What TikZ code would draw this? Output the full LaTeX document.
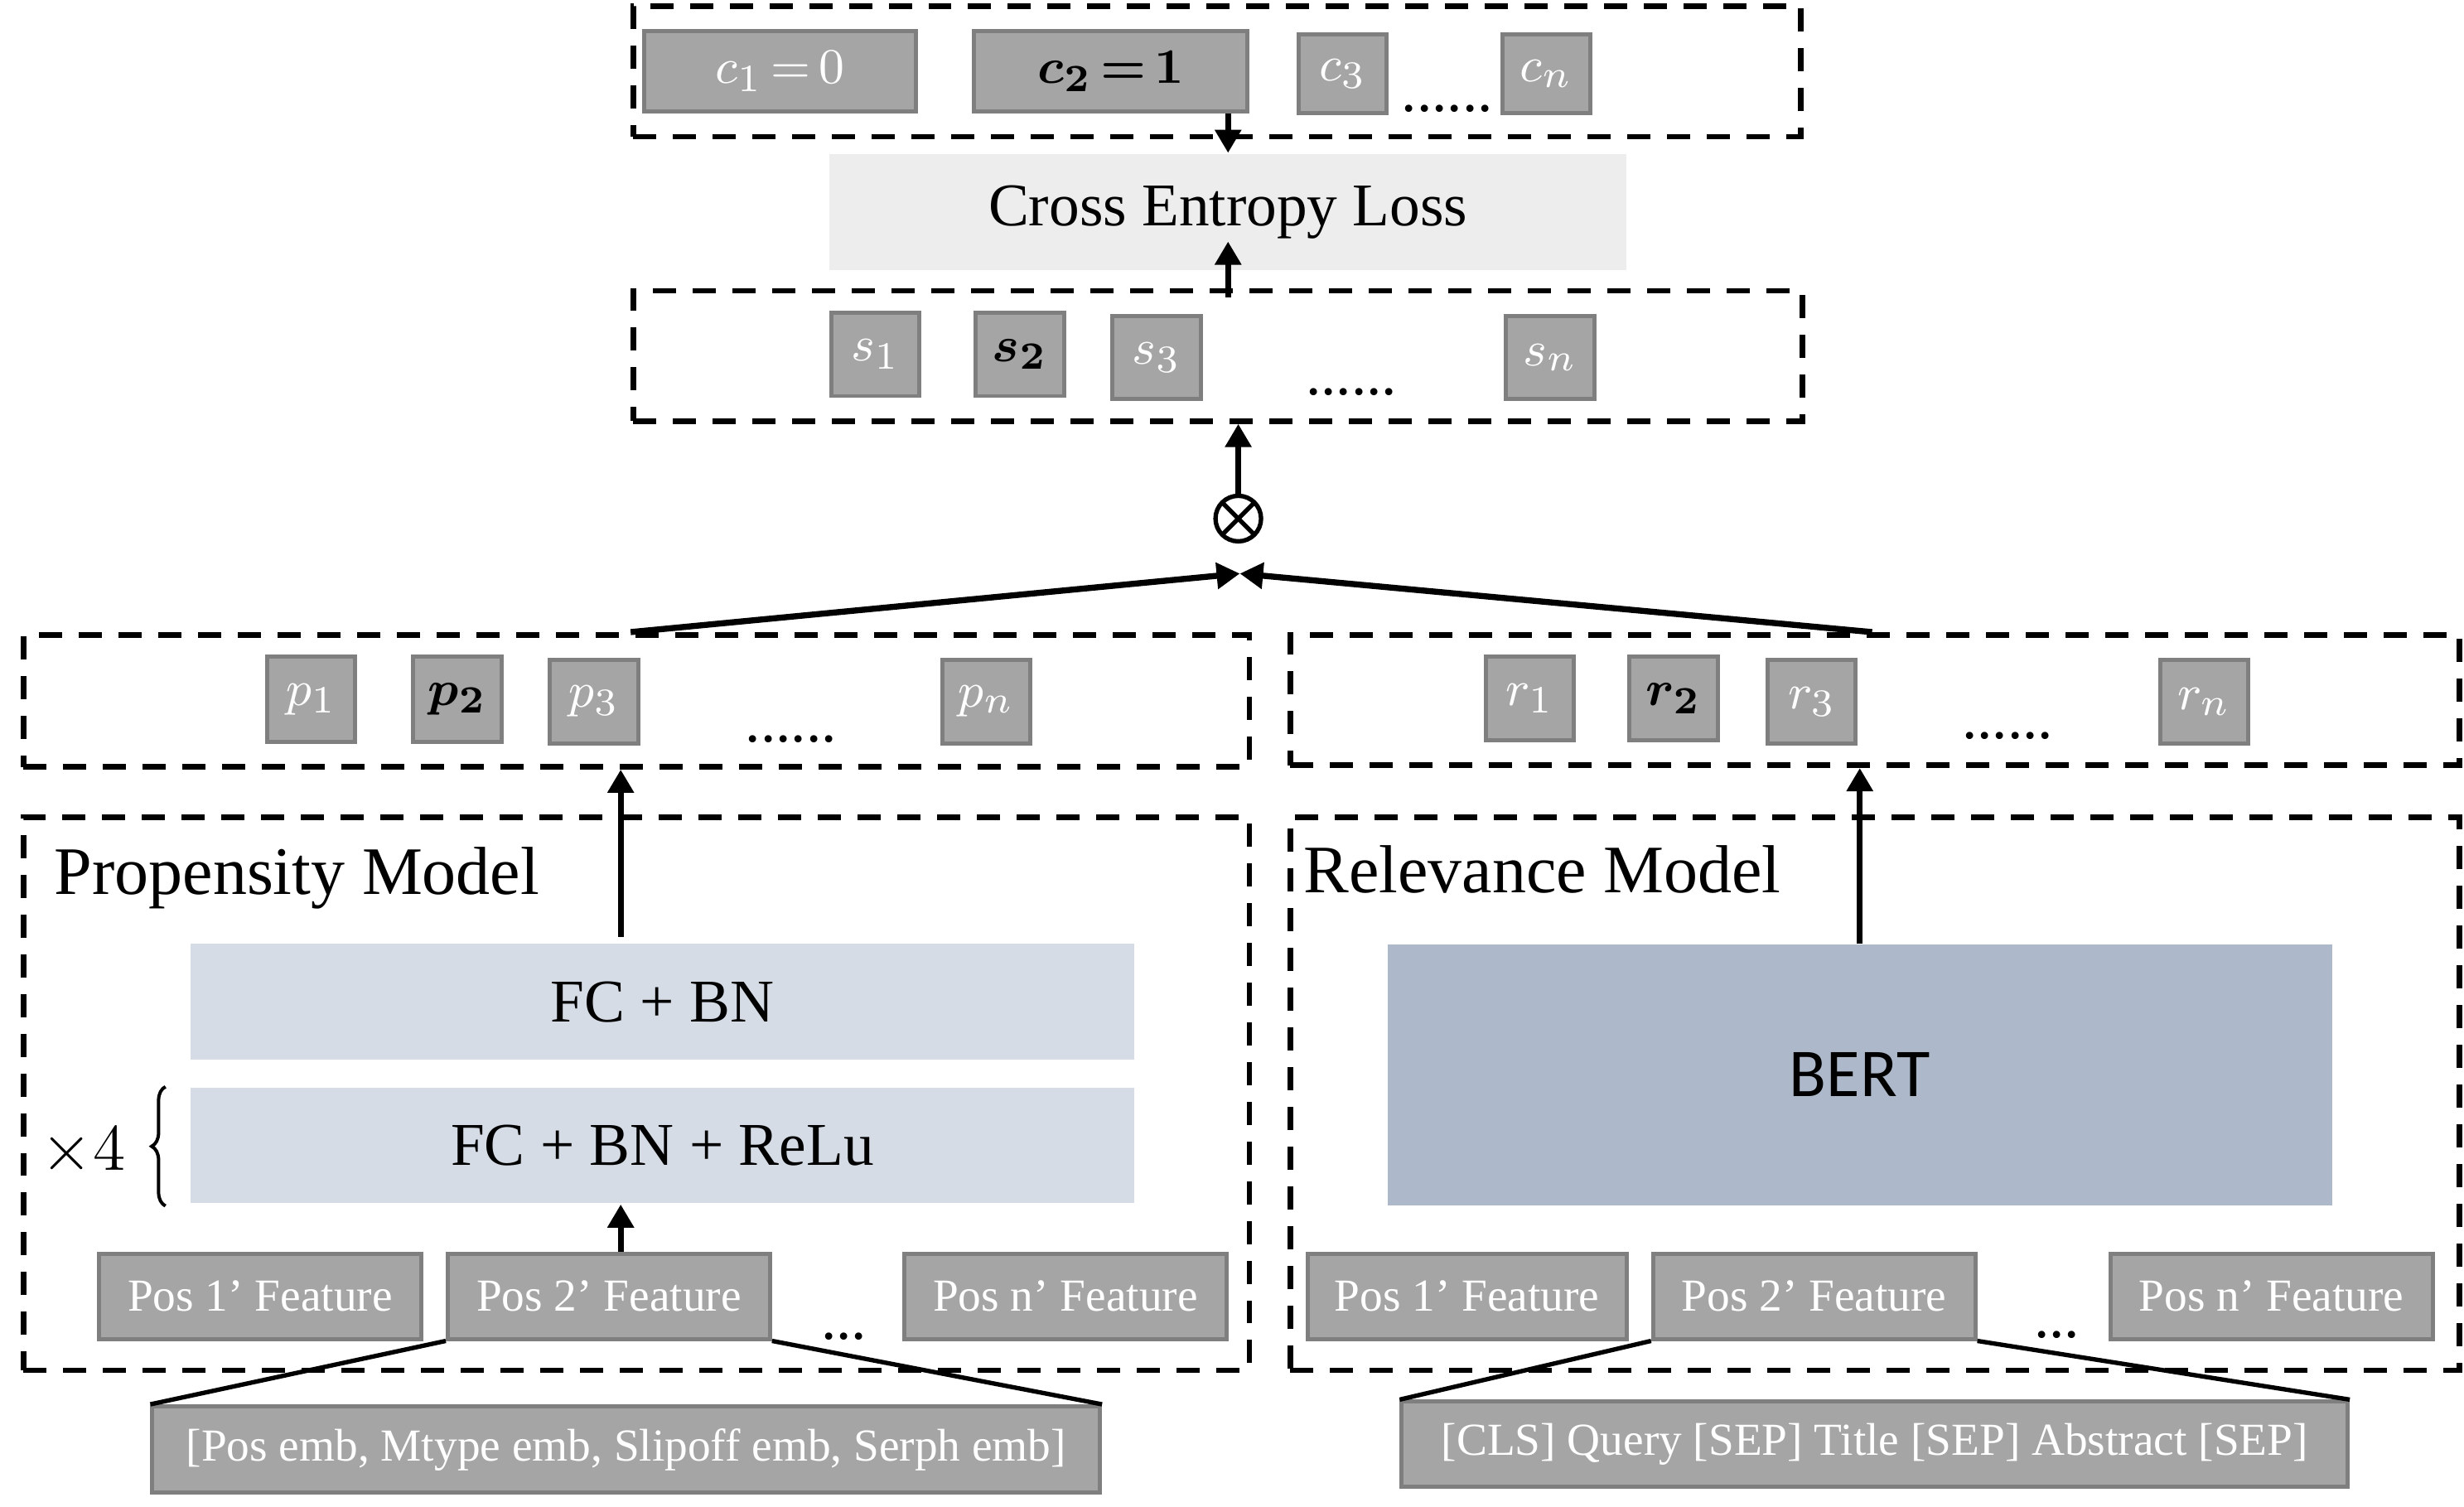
\documentclass[tikz,border=0pt]{standalone}
\usepackage{fontspec}
\setmainfont{Liberation Serif}
\newfontfamily\bertfont{Carlito}
\usepackage{bm}
\usetikzlibrary{arrows.meta,decorations.pathreplacing,calc}
\definecolor{cellgray}{HTML}{A5A5A5}
\definecolor{edgegray}{HTML}{7F7F7F}
\definecolor{lossgray}{HTML}{EDEDED}
\definecolor{layerblue}{HTML}{D6DCE5}
\definecolor{bertblue}{HTML}{ADB9CA}

\begin{document}
\begin{tikzpicture}[x=0.1mm, y=-0.1mm,
	dashbox/.style={draw, dash pattern=on 4.2pt off 3pt, line width=1pt, inner sep=0pt},
	cell/.style={draw=edgegray, fill=cellgray, line width=0.75pt, inner sep=0pt, text=white,
		minimum width=0.56cm, minimum height=0.53cm, font=\fontsize{9.5}{11}\selectfont},
	featbox/.style={cell, minimum width=2.05cm, minimum height=0.54cm, font=\fontsize{8.3}{10}\selectfont},
	layer/.style={fill=layerblue, inner sep=0pt, minimum width=6.01cm, minimum height=0.735cm, font=\fontsize{11}{13}\selectfont},
	dots/.style={anchor=base, inner sep=0pt, font=\fontsize{11}{13}\selectfont},
	title/.style={anchor=base west, inner sep=0pt, font=\fontsize{12.3}{14}\selectfont},
	arr/.style={-{Triangle[length=4.2pt,width=4.6pt]}, line width=1.1pt},
	link/.style={line width=0.8pt}]
	\useasboundingbox (0,0) rectangle (1568,959);

	% dashed frames
	\node (crow) at (774.5, 45.5)	[dashbox, minimum width=7.43cm, minimum height=0.83cm]	{};
	\node (srow) at (775, 226.5)	[dashbox, minimum width=7.44cm, minimum height=0.83cm]	{};
	\node (prow) at (405, 446)	[dashbox, minimum width=7.80cm, minimum height=0.84cm]	{};
	\node (rrow) at (1193, 445.5)	[dashbox, minimum width=7.44cm, minimum height=0.83cm]	{};
	\node (pmodel) at (405, 696)	[dashbox, minimum width=7.80cm, minimum height=3.52cm]	{};
	\node (rmodel) at (1193, 696)	[dashbox, minimum width=7.44cm, minimum height=3.52cm]	{};

	% clicks
	\node (c1) at (496.5, 45.5)	[cell, minimum width=1.73cm, minimum height=0.51cm]	{$c_1\,{=}\,0$};
	\node (c2) at (707, 45.5)	[cell, minimum width=1.74cm, minimum height=0.51cm, text=black]	{$\bm{c_2\,{=}\,1}$};
	\node (c3) at (854.5, 47)	[cell, minimum height=0.50cm]	{$c_3$};
	\node (cn) at (984, 47)	[cell, minimum height=0.50cm]	{$c_n$};
	\node (cdots) at (921, 71)	[dots]	{......};

	\node (closs) at (781.5, 135)	[fill=lossgray, inner sep=0pt, minimum width=5.07cm, minimum height=0.74cm, font=\fontsize{11}{13}\selectfont]	{Cross Entropy Loss};

	% scores
	\node (s1) at (557, 225.5)	[cell]	{$s_1$};
	\node (s2) at (649, 225.5)	[cell, text=black]	{$\bm{s_2}$};
	\node (s3) at (736, 227.5)	[cell]	{$s_3$};
	\node (sn) at (986.5, 227.5)	[cell]	{$s_n$};
	\node (sdots) at (860, 251)	[dots]	{......};

	\node (mul) at (788, 330)	[circle, draw, line width=0.8pt, minimum size=0.29cm, inner sep=0pt,
		path picture={\draw[line width=0.8pt] (path picture bounding box.north west) -- (path picture bounding box.south east)
			(path picture bounding box.north east) -- (path picture bounding box.south west);}]	{};
	\coordinate (join) at (789, 365);

	% propensity
	\node (p1) at (198, 445)	[cell, minimum height=0.54cm]	{$p_1$};
	\node (p2) at (291, 445)	[cell, minimum height=0.54cm, text=black]	{$\bm{p_2}$};
	\node (p3) at (378, 446.5)	[cell]	{$p_3$};
	\node (pn) at (627.5, 446.5)	[cell]	{$p_n$};
	\node (pdots) at (503.5, 472)	[dots]	{......};

	\node (plabel) at (34, 569)	[title]	{Propensity Model};
	\node (fcbn) at (421.5, 637.5)	[layer]	{FC + BN};
	\node (relu) at (421.5, 729)	[layer]	{FC + BN + ReLu};
	\node (rep) at (53, 733)	[font=\fontsize{12}{14}\selectfont]	{$\times4$};
	\node (pl1) at (165.5, 825)	[featbox]	{Pos 1’ Feature};
	\node (pl2) at (387.5, 825)	[featbox]	{Pos 2’ Feature};
	\node (pln) at (678, 825)	[featbox]	{Pos n’ Feature};
	\node (pldots) at (537, 852)	[dots]	{...};
	\node (emb) at (398.5, 922.5)	[featbox, minimum width=6.03cm, minimum height=0.55cm]	{[Pos emb, Mtype emb, Slipoff emb, Serph emb]};

	% relevance
	\node (r1) at (973.5, 444.5)	[cell]	{$r_1$};
	\node (r2) at (1065, 444.5)	[cell, text=black]	{$\bm{r_2}$};
	\node (r3) at (1153, 446.5)	[cell]	{$r_3$};
	\node (rn) at (1402.5, 446.5)	[cell]	{$r_n$};
	\node (rdots) at (1277.5, 470)	[dots]	{......};

	\node (rlabel) at (829, 568)	[title]	{Relevance Model};
	\node (bert) at (1183.5, 684)	[fill=bertblue, inner sep=0pt, minimum width=6.01cm, minimum height=1.66cm, font=\bertfont\fontsize{12.4}{14}\selectfont]	{BERT};
	\node (pr1) at (933.5, 825)	[featbox, minimum width=2.03cm]	{Pos 1’ Feature};
	\node (pr2) at (1154.5, 825)	[featbox]	{Pos 2’ Feature};
	\node (prn) at (1445.5, 825)	[featbox]	{Pos n’ Feature};
	\node (prdots) at (1309, 851)	[dots]	{...};
	\node (cls) at (1193, 919)	[featbox, minimum width=6.02cm]	{[CLS] Query [SEP] Title [SEP] Abstract [SEP]};

	% connectors
	\draw[arr] (closs.north |- c2.south) -- (closs.north);
	\draw[arr] ($(srow.north -| closs.south)+(0,6)$) -- ($(closs.south)+(0,-19)$);
	\draw[arr] (mul.north) -- (mul.north |- srow.south);
	\draw[arr] ($(p3.north east |- prow.north)+(-6,0)$) -- (join);
	\draw[arr] ($(r3.north east |- rrow.north)+(9,0)$) -- (join);
	\draw[arr] ($(pl2.north |- fcbn.north)+(7.5,-4)$) -- ($(pl2.north |- prow.south)+(7.5,0)$);
	\draw[arr] ($(pl2.north)+(7.5,0)$) -- ($(pl2.north |- relu.south)+(7.5,0)$);
	\draw[arr] (bert.north) -- (bert.north |- rrow.south);
	\draw[decorate, decoration={brace, amplitude=2.5pt}, line width=0.6pt] ($(relu.south west)+(-15,1)$) -- ($(relu.north west)+(-15,0)$);
	\draw[link] (pl2.south west) -- (emb.north west);
	\draw[link] (pl2.south east) -- (emb.north east);
	\draw[link] (pr2.south west) -- (cls.north west);
	\draw[link] (pr2.south east) -- (cls.north east);
\end{tikzpicture}
\end{document}
